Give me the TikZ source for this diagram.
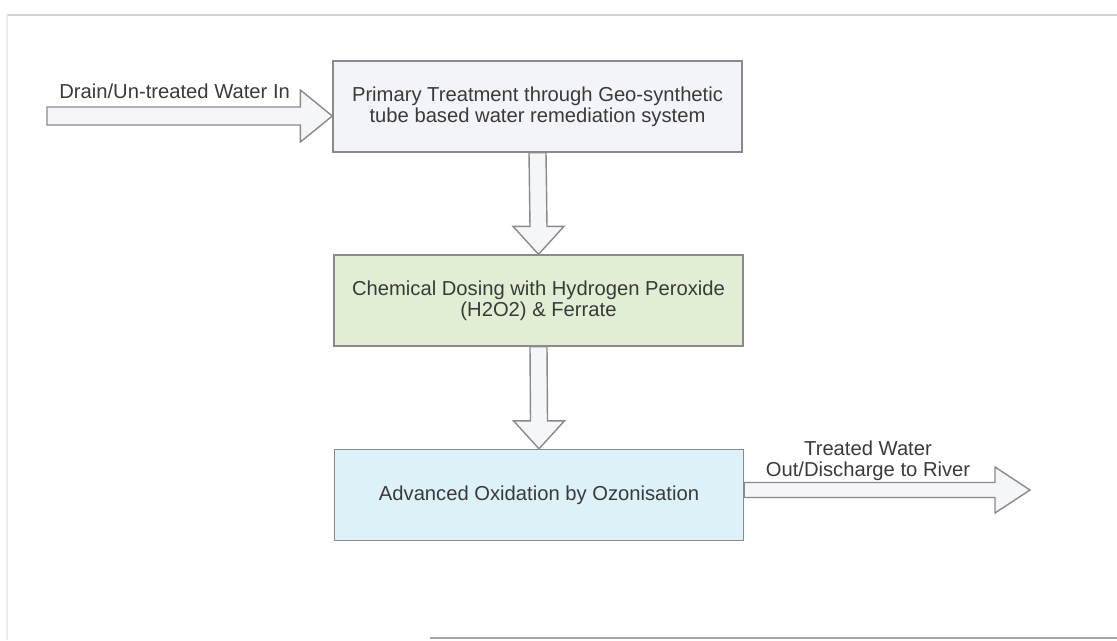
\documentclass[tikz,border=0pt]{standalone}
\usepackage{fontspec}
\setmainfont{Liberation Sans}
\usepackage{tikz}
\usepackage{xcolor}
\usetikzlibrary{calc}

\definecolor{boxline}{HTML}{8A8A8A}
\definecolor{txt}{HTML}{3A3A3A}
\definecolor{arrfill}{HTML}{F5F6FA}
\definecolor{primfill}{HTML}{F3F4FA}
\definecolor{chemfill}{HTML}{E2EED3}
\definecolor{ozonfill}{HTML}{DDF1F8}

\newcommand{\labelfont}{\fontsize{11.5}{12.2}\selectfont}

\tikzset{
  procbox/.style={draw=boxline, line width=0.8pt, minimum width=8.18cm,
    minimum height=1.82cm, align=center, text=txt, font=\labelfont},
  blockarr/.style={draw=boxline, fill=arrfill, line width=0.8pt, line join=miter},
  lbl/.style={text=txt, font=\labelfont, align=center, inner sep=0pt}
}

\begin{document}
\begin{tikzpicture}[x=0.02cm,y=-0.02cm]
    \useasboundingbox (0,0) rectangle (1117,640);
    % frame lines of the scan
    \draw[gray!35, line width=0.8pt] (7,15)--(1117,15);
    \draw[gray!15, line width=0.6pt] (7,15)--(7,640);
    \draw[gray!70, line width=0.8pt] (430,638)--(1117,638);

    % treatment stages
    \node[procbox, fill=primfill] (prim) at (537.5,106.5) {Primary Treatment through Geo-synthetic\\tube based water remediation system};
    \node[procbox, fill=chemfill] (chem) at (538.5,300.5) {Chemical Dosing with Hydrogen Peroxide\\(H2O2) \& Ferrate};
    \node[procbox, fill=ozonfill] (ozon) at (539,495) {Advanced Oxidation by Ozonisation};

    % inlet
    \coordinate (inlet) at (47,116);
    \coordinate (intip) at ($(prim.west)+(0,9.5)$);
    \draw[blockarr] ($(inlet)+(0,-9)$)--($(intip)+(-32,-9)$)--($(intip)+(-32,-26)$)--(intip)
        --($(intip)+(-32,26)$)--($(intip)+(-32,9)$)--($(inlet)+(0,9)$)--cycle;
    \node[lbl, anchor=south west] (inlbl) at (59,99) {Drain/Un-treated Water In};

    % stage to stage
    \draw[blockarr] ($(prim.south)+(-8.5,0)$)--($(chem.north)+(-8.5,-28)$)--($(chem.north)+(-25.5,-28)$)--(chem.north)
        --($(chem.north)+(25.5,-28)$)--($(chem.north)+(8.5,-28)$)--($(prim.south)+(8.5,0)$)--cycle;
    \draw[blockarr] ($(chem.south)+(-8.5,0)$)--($(ozon.north)+(-8.5,-28)$)--($(ozon.north)+(-25.5,-28)$)--(ozon.north)
        --($(ozon.north)+(25.5,-28)$)--($(ozon.north)+(8.5,-28)$)--($(chem.south)+(8.5,0)$)--cycle;

    % outlet
    \coordinate (outtip) at (1030,490);
    \coordinate (outbase) at (ozon.east |- outtip);
    \draw[blockarr] ($(outbase)+(0,-7.5)$)--($(outtip)+(-35,-7.5)$)--($(outtip)+(-35,-23)$)--(outtip)
        --($(outtip)+(-35,23)$)--($(outtip)+(-35,7.5)$)--($(outbase)+(0,7.5)$)--cycle;
    \node[lbl] (outlbl) at (868,461) {Treated Water\\Out/Discharge to River};
\end{tikzpicture}
\end{document}
